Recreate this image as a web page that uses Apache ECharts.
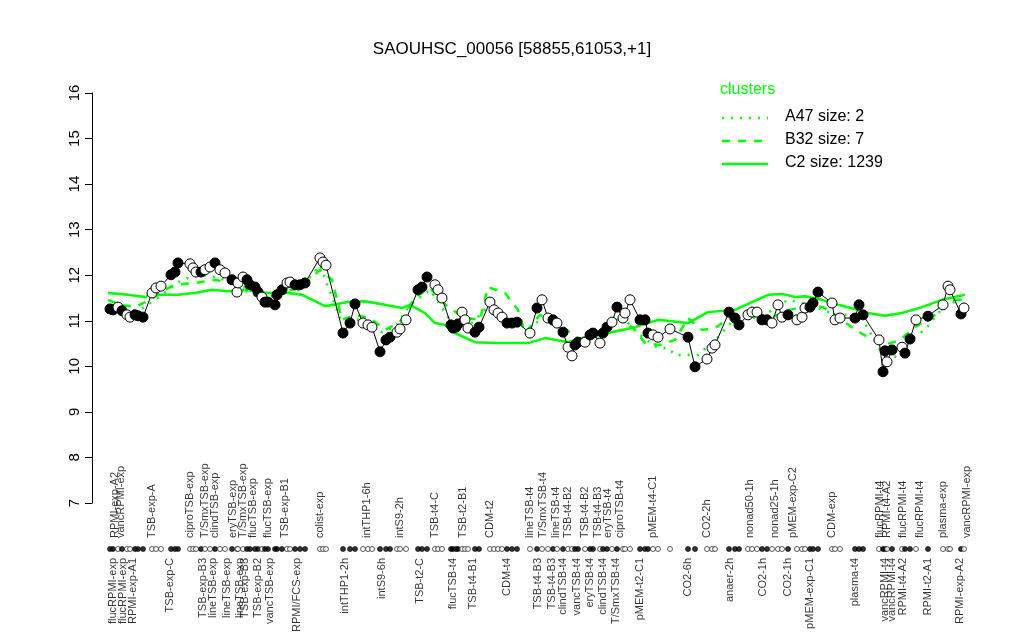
<!DOCTYPE html>
<html><head><meta charset="utf-8">
<script src="https://cdn.jsdelivr.net/npm/echarts@6/dist/echarts.min.js"></script>
<style>html,body{margin:0;padding:0;background:#fff}#c{width:1024px;height:640px}</style>
</head><body><div id="c"></div>
<script>
// sample positions along the x direction (arbitrary position units)
const samplePos = [18,21,26,30,35,38,43,46,51,60,64,69,79,83,86,98,101,104,109,113,118,123,128,133,140,145,146,151,155,158,163,166,170,173,176,183,185,190,195,198,203,208,213,228,231,234,251,258,263,271,276,280,288,294,298,305,308,314,326,330,335,343,346,350,359,361,364,366,370,373,376,383,387,398,402,406,410,415,420,425,438,445,450,456,461,465,471,476,480,483,486,493,498,501,508,511,515,520,525,531,533,538,548,553,556,561,566,578,596,603,615,620,623,637,643,647,656,660,665,670,675,680,686,690,696,705,710,713,718,721,726,740,743,748,763,767,771,787,791,793,795,800,810,813,818,824,836,851,856,858,869,872];
// expression values of the gene
const sampleVal = [11.26,11.24,11.30,11.22,11.13,11.08,11.13,11.11,11.08,11.61,11.72,11.76,12.01,12.07,12.27,12.25,12.16,12.07,12.07,12.12,12.18,12.27,12.12,12.05,11.90,11.63,11.83,11.96,11.90,11.79,11.74,11.63,11.52,11.41,11.41,11.35,11.57,11.68,11.83,11.85,11.79,11.79,11.83,12.38,12.29,12.22,10.73,10.95,11.37,10.95,10.91,10.86,10.32,10.58,10.64,10.75,10.82,11.02,11.68,11.74,11.96,11.79,11.68,11.50,10.91,10.84,10.86,10.93,11.19,11.02,10.84,10.75,10.86,11.41,11.24,11.17,11.08,10.95,10.95,10.97,10.73,11.28,11.46,11.06,11.02,10.95,10.75,10.42,10.23,10.47,10.53,10.53,10.69,10.73,10.51,10.73,10.86,10.97,11.30,11.06,11.17,11.46,11.02,11.02,10.73,10.69,10.64,10.82,10.64,9.99,10.16,10.40,10.47,11.19,11.06,10.91,11.13,11.19,11.19,11.02,11.02,10.95,11.35,11.08,11.13,11.02,11.08,11.28,11.30,11.39,11.63,11.39,11.02,11.06,11.06,11.35,11.13,10.58,9.88,10.34,10.10,10.36,10.42,10.29,10.60,11.02,11.10,11.35,11.76,11.68,11.15,11.28];
// 1 = filled marker, 0 = open marker
const sampleFill = [1,1,0,1,0,0,1,1,1,0,0,0,1,1,1,0,0,0,1,0,0,1,0,0,1,0,0,0,1,1,1,1,0,1,1,1,1,1,0,0,1,1,1,0,0,0,1,1,1,0,0,0,1,1,1,0,0,0,1,1,1,0,0,0,1,1,1,1,0,0,0,1,1,0,0,0,0,1,1,1,0,1,0,0,1,0,1,0,0,1,1,0,1,1,0,1,1,0,1,0,0,0,1,1,1,0,0,0,1,1,0,0,0,1,1,1,0,0,0,1,1,0,0,0,1,0,0,0,1,1,1,0,0,0,1,1,1,0,1,1,0,1,0,1,1,0,1,0,0,0,1,0];

// cluster profiles
const c2Pos = [16,36,53,58,70,86,103,120,136,153,176,196,210,223,233,256,273,293,310,318,333,343,353,363,383,403,436,453,476,493,516,543,566,596,616,643,660,676,690,703,713,730,746,763,776,793,810,830,850,873];
const c2Val = [11.61,11.57,11.52,11.57,11.57,11.57,11.61,11.68,11.65,11.68,11.61,11.61,11.57,11.43,11.32,11.41,11.43,11.35,11.28,11.35,11.17,10.95,10.91,10.73,10.53,10.51,10.51,10.62,10.53,10.64,10.73,10.86,11.02,10.95,11.19,11.24,11.41,11.57,11.59,11.52,11.54,11.46,11.35,11.26,11.17,11.11,11.17,11.30,11.46,11.57];
const b32Pos = [16,28,43,58,73,83,103,123,148,168,188,208,228,240,250,263,278,293,308,323,338,356,373,388,396,413,426,433,448,468,488,508,528,543,553,568,583,596,610,623,638,658,678,698,718,731,748,763,776,793,808,823,843,858,873];
const b32Val = [11.46,11.35,11.30,11.46,11.68,11.79,11.83,11.90,11.79,11.57,11.63,11.72,12.12,11.90,11.02,11.13,11.06,10.80,10.97,11.52,11.72,11.30,11.06,11.02,11.74,11.61,11.24,10.73,11.13,10.91,10.58,10.69,11.06,10.80,10.51,10.47,10.58,11.06,10.80,10.84,11.06,11.24,11.06,11.24,11.35,11.30,11.06,10.80,10.64,10.47,10.58,10.86,11.13,11.46,11.46];
const a47Pos = [16,33,48,63,83,90,108,128,148,168,188,208,228,248,268,290,303,318,338,358,378,398,418,438,450,468,488,508,528,548,566,576,583,606,626,643,668,696,718,743,768,788,803,818,833,853,870];
const a47Val = [11.35,11.19,11.24,11.46,11.79,11.90,12.01,11.94,11.72,11.50,11.57,11.68,12.22,11.06,11.02,10.75,10.86,11.35,11.68,11.02,10.91,11.35,11.02,10.84,11.06,10.80,10.47,10.62,11.13,10.69,10.40,10.40,10.25,10.25,10.64,11.06,11.06,11.46,11.35,11.13,11.13,10.36,10.21,10.58,10.80,11.35,11.46];

// sample names shown above and below the rug
const topLabelPos = [23,29,60,98,113,123,141,151,161,176,193,228,275,308,343,371,398,438,451,464,476,493,506,516,528,561,615,658,683,701,740,788,795,811,828,851,875];
const topLabels = ["RPMI-exp-A2","vancRPMI-exp","TSB-exp-A","ciproTSB-exp","T/SmxTSB-exp","clindTSB-exp","eryTSB-exp","T/SmxTSB-exp","flucTSB-exp","flucTSB-exp","TSB-exp-B1","colist-exp","intTHP1-6h","intS9-2h","TSB-t4-C","TSB-t2-B1","CDM-t2","lineTSB-t4","T/SmxTSB-t4","lineTSB-t4","TSB-t4-B2","TSB-t4-B2","TSB-t4-B3","eryTSB-t4","ciproTSB-t4","pMEM-t4-C1","CO2-2h","nonad50-1h","nonad25-1h","pMEM-exp-C2","CDM-exp","flucRPMI-t4","RPMI-t4-A2","flucRPMI-t4","flucRPMI-t4","plasma-exp","vancRPMI-exp"];
const bottomLabelPos = [21,31,41,78,111,121,135,148,153,166,178,205,253,290,328,361,381,415,446,460,471,485,498,511,524,548,596,638,671,696,718,763,793,800,811,836,868];
const bottomLabels = ["flucRPMI-exp","flucRPMI-exp","RPMI-exp-A1","TSB-exp-C","TSB-exp-B3","lineTSB-exp","lineTSB-exp","lineTSB-exp","TSB-exp-B3","TSB-exp-B2","vancTSB-exp","RPMI/FCS-exp","intTHP1-2h","intS9-6h","TSB-t2-C","flucTSB-t4","TSB-t4-B1","CDM-t4","TSB-t4-B3","TSB-t4-B3","clindTSB-t4","vancTSB-t4","eryTSB-t4","clindTSB-t4","T/SmxTSB-t4","pMEM-t2-C1","CO2-6h","anaer-2h","CO2-1h","CO2-1h","pMEM-exp-C1","plasma-t4","vancRPMI-t4","vancRPMI-t4","RPMI-t4-A2","RPMI-t2-A1","RPMI-exp-A2"];

const yTicks = [7,8,9,10,11,12,13,14,15,16];
const legendNames = ["A47 size: 2","B32 size: 7","C2 size: 1239"];

const FONT = "Liberation Sans, Arial, Helvetica, sans-serif";
const GREEN = "#00ff00";
const XMAX = 893;

const zip = (a,b) => a.map((v,i)=>[v,b[i]]);
const pts = samplePos.map((p,i)=>({value:[p, sampleVal[i]], itemStyle:{color: sampleFill[i] ? '#000' : '#fff'}}));
const rug = samplePos.map((p,i)=>({value:[p, 0], itemStyle:{color: sampleFill[i] ? '#000' : '#fff'}}));

const chart = echarts.init(document.getElementById('c'), null, {renderer:'canvas'});
chart.setOption({
  animation:false,
  backgroundColor:'#fff',
  textStyle:{fontFamily:FONT},
  title:{text:'SAOUHSC_00056 [58855,61053,+1]', left:'center', top:36,
    textStyle:{fontFamily:FONT, fontSize:17, fontWeight:'normal', color:'#000'}},
  grid:[
    {left:92, right:1024-92-XMAX, top:93, bottom:640-503},
    {left:92, right:1024-92-XMAX, top:544, height:10}
  ],
  xAxis:[
    {type:'value', gridIndex:0, min:0, max:XMAX, show:false},
    {type:'value', gridIndex:1, min:0, max:XMAX, show:false}
  ],
  yAxis:[
    {type:'value', gridIndex:0, min:yTicks[0], max:yTicks[yTicks.length-1], interval:1,
      axisLine:{show:true, onZero:false, lineStyle:{color:'#000', width:1}},
      axisTick:{show:true, length:7, inside:false, lineStyle:{color:'#000'}},
      axisLabel:{color:'#000', fontSize:15, rotate:90, margin:10, fontFamily:FONT},
      splitLine:{show:false}},
    {type:'value', gridIndex:1, min:-1, max:1, show:false}
  ],
  series:[
    {type:'line', name:'C2', data:zip(c2Pos,c2Val), showSymbol:false, symbol:'none',
      lineStyle:{color:GREEN, width:2.5, type:'solid'}, z:1},
    {type:'line', name:'B32', data:zip(b32Pos,b32Val), showSymbol:false, symbol:'none',
      lineStyle:{color:GREEN, width:2.5, type:[8,8]}, z:1},
    {type:'line', name:'A47', data:zip(a47Pos,a47Val), showSymbol:false, symbol:'none',
      lineStyle:{color:GREEN, width:2.5, type:[2,7]}, z:1},
    {type:'line', name:'gene', data:pts, symbol:'circle', symbolSize:10, showAllSymbol:true,
      lineStyle:{color:'#000', width:1},
      itemStyle:{borderColor:'#000', borderWidth:1}, z:3},
    {type:'scatter', xAxisIndex:1, yAxisIndex:1, data:rug, symbol:'circle', symbolSize:5,
      itemStyle:{borderColor:'#000', borderWidth:0.8}, z:3},
    {type:'scatter', xAxisIndex:1, yAxisIndex:1, symbolSize:0,
      data:topLabelPos.map((p,i)=>({value:[p,0], name:topLabels[i]})),
      label:{show:true, formatter:'{b}', rotate:90, position:[0,-11], align:'left', verticalAlign:'middle',
        fontSize:11, color:'#000', fontFamily:FONT}, silent:true},
    {type:'scatter', xAxisIndex:1, yAxisIndex:1, symbolSize:0,
      data:bottomLabelPos.map((p,i)=>({value:[p,0], name:bottomLabels[i]})),
      label:{show:true, formatter:'{b}', rotate:90, position:[0,9], align:'right', verticalAlign:'middle',
        fontSize:11, color:'#000', fontFamily:FONT}, silent:true}
  ],
  graphic:[
    {type:'text', left:720, top:82, style:{text:'clusters', fill:GREEN, font:'16px '+FONT}},
    {type:'line', shape:{x1:722,y1:118,x2:768,y2:118}, style:{stroke:GREEN, lineWidth:2.5, lineDash:[2,7]}},
    {type:'line', shape:{x1:722,y1:141,x2:768,y2:141}, style:{stroke:GREEN, lineWidth:2.5, lineDash:[8,8]}},
    {type:'line', shape:{x1:722,y1:164,x2:768,y2:164}, style:{stroke:GREEN, lineWidth:2.5}},
    {type:'text', left:785, top:109, style:{text:legendNames[0], fill:'#000', font:'16px '+FONT}},
    {type:'text', left:785, top:132, style:{text:legendNames[1], fill:'#000', font:'16px '+FONT}},
    {type:'text', left:785, top:155, style:{text:legendNames[2], fill:'#000', font:'16px '+FONT}}
  ]
});
</script></body></html>
